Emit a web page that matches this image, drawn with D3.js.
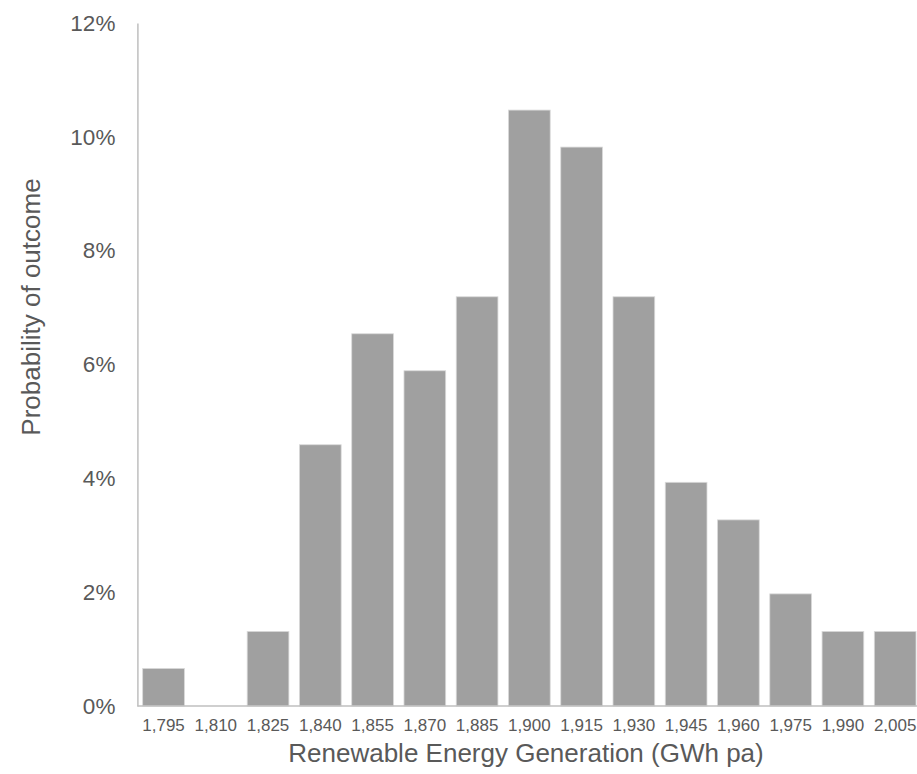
<!DOCTYPE html>
<html>
<head>
<meta charset="utf-8">
<script src="https://cdn.jsdelivr.net/npm/d3@7"></script>
<style>
  html, body { margin: 0; padding: 0; background: #fff; overflow: hidden; }
  svg { display: block; }
  text { font-family: "Liberation Sans", Arial, sans-serif; fill: #595959; }
</style>
</head>
<body>
<svg id="chart" width="917" height="774"></svg>
<script>
// Data (probability in %)
const categories = ["1,795","1,810","1,825","1,840","1,855","1,870","1,885","1,900","1,915","1,930","1,945","1,960","1,975","1,990","2,005"];
const probability = [0.66, 0, 1.31, 4.59, 6.54, 5.89, 7.19, 10.47, 9.82, 7.19, 3.93, 3.27, 1.97, 1.31, 1.31];
const yTicks = [0, 2, 4, 6, 8, 10, 12];
const xTitle = "Renewable Energy Generation (GWh pa)";
const yTitle = "Probability of outcome";

const svg = d3.select("#chart");
const mLeft = 137.4, mRight = 921.3, mTop = 23, mBottom = 706;

const x = d3.scaleBand().domain(categories).range([mLeft, mRight]).paddingInner(0.202).paddingOuter(0.101);
const y = d3.scaleLinear().domain([0, 12]).range([mBottom, mTop]);

// bars
svg.append("g").selectAll("rect").data(categories).join("rect")
  .attr("x", d => x(d))
  .attr("width", x.bandwidth())
  .attr("y", (d, i) => y(probability[i]))
  .attr("height", (d, i) => y(0) - y(probability[i]))
  .attr("fill", "#a0a0a0")
  .attr("stroke", "#d9d9d9")
  .attr("stroke-width", 0.8);

// y axis
const yAxis = svg.append("g").attr("transform", `translate(${mLeft},0)`)
  .call(d3.axisLeft(y).tickValues(yTicks).tickFormat(d => d + "%").tickSize(0).tickPadding(22));
yAxis.select(".domain").attr("stroke", "#bfbfbf").attr("stroke-width", 1.5);
yAxis.selectAll("text").style("font-size", "22.5px").attr("fill", "#595959");

// x axis
const xAxis = svg.append("g").attr("transform", `translate(0,${mBottom})`)
  .call(d3.axisBottom(x).tickSize(0).tickPadding(13));
xAxis.select(".domain").attr("stroke", "#bfbfbf").attr("stroke-width", 1.5).attr("d", `M${mLeft},0H917`);
xAxis.selectAll("text").style("font-size", "17px").attr("fill", "#595959");

// titles
svg.append("text")
  .attr("x", 526).attr("y", 762)
  .attr("text-anchor", "middle")
  .style("font-size", "26px")
  .text(xTitle);

svg.append("text")
  .attr("transform", "translate(40,307) rotate(-90)")
  .attr("text-anchor", "middle")
  .style("font-size", "26px")
  .text(yTitle);
</script>
</body>
</html>
